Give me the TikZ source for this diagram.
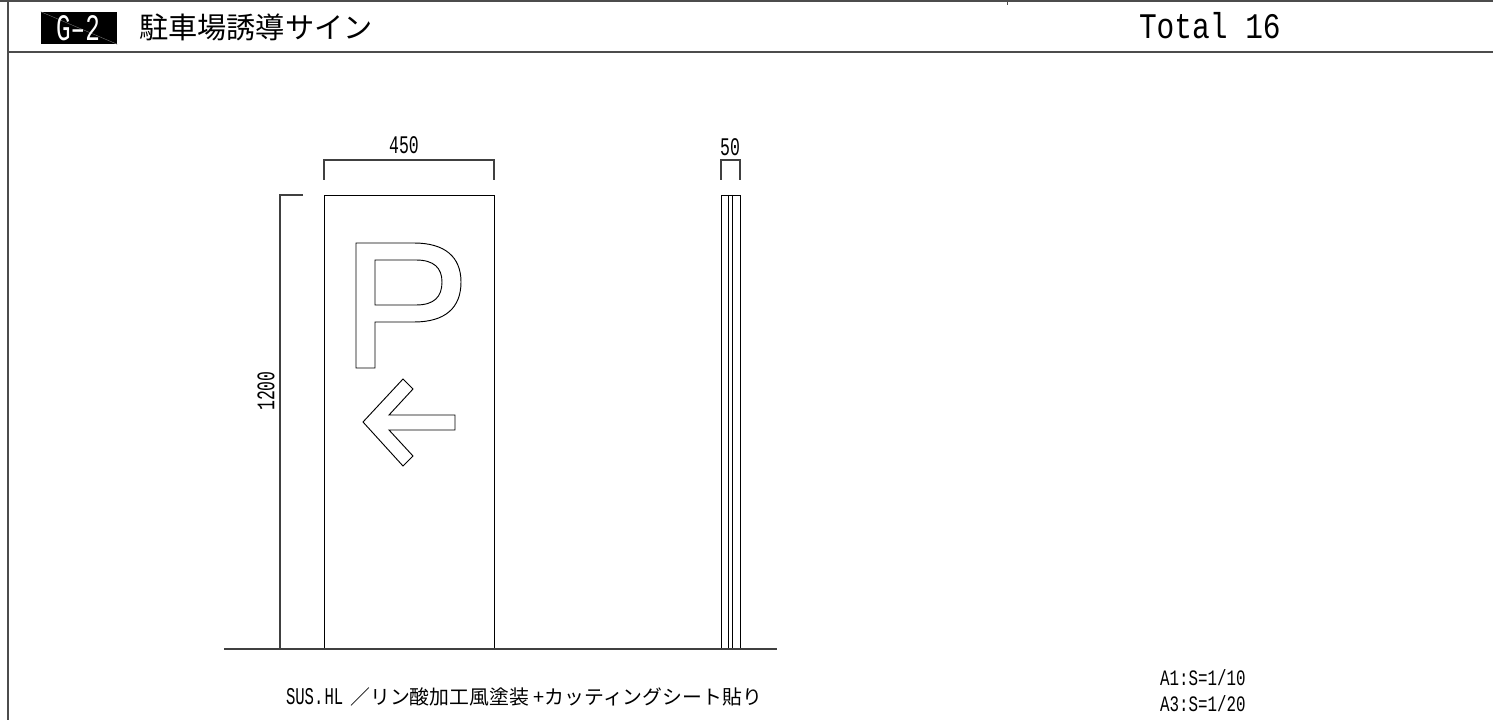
\documentclass[tikz,border=0pt]{standalone}
\usepackage{fontspec}
\setmainfont{Liberation Sans}
\newfontfamily\latn[FakeStretch=0.82]{Liberation Mono}
\newfontfamily\latnn[FakeStretch=0.65]{Liberation Mono}
\newfontfamily\latnm[FakeStretch=0.72]{Liberation Mono}
\newfontfamily\cjk{Noto Sans CJK JP}
\begin{document}
\begin{tikzpicture}[x=0.75pt,y=-0.75pt,
  frameline/.style={draw=black!70,line width=1.1pt},
  drawline/.style={draw=black,line width=0.7pt},
  dimline/.style={draw=black!75,line width=0.85pt},
  lbl/.style={inner sep=0,outer sep=0,text=black},
  ]
\useasboundingbox[fill=white] (0,0) rectangle (1493,720);
% frame
\draw[frameline] (0,1) -- (1493,1);
\draw[frameline] (8,0) -- (8,720);
\draw[frameline] (8,52) -- (1493,52);
\draw[draw=black!70,line width=0.7pt] (1007,1) -- (1007,5);
% header
\node[fill=black,minimum width=76*0.75pt,minimum height=32*0.75pt,inner sep=0] (tag) at (79,28) {};
\draw[draw=black!55,line width=0.3pt] (tag.north west) -- (tag.south east);
\node[lbl,text=white] (tagt) at (78,28) {\fontsize{28}{28}\selectfont\latnn G–2};
\node[lbl,anchor=west] (title) at (139,27) {\fontsize{21.9}{24}\selectfont\cjk 駐車場誘導サイン};
\node[lbl,anchor=west] (total) at (1139,26) {\fontsize{27}{27}\selectfont\latn Total 16};
% panel
\draw[drawline] (324,195) rectangle (494,649);
% P
\draw[drawline,line join=miter] (356,243) -- (414,243)
  .. controls (445,243) and (461,257) .. (461,282)
  .. controls (461,308) and (445,322) .. (414,322)
  -- (375,322) -- (375,368) -- (356,368) -- cycle;
\draw[drawline] (375,260) -- (416,260)
  .. controls (434,260) and (442,268) .. (442,282)
  .. controls (442,297) and (434,305) .. (416,305)
  -- (375,305) -- cycle;
% arrow
\draw[drawline] (363,422) -- (403,379) -- (413,389) -- (389,415) -- (455,415) -- (455,430)
  -- (389,430) -- (413,456) -- (403,466) -- cycle;
% side view
\draw[drawline] (721,195) rectangle (740,649);
\draw[drawline] (728,195) -- (728,649);
\draw[drawline] (732,195) -- (732,649);
% ground
\coordinate (g1) at (224,649); \coordinate (g2) at (777,649);
\draw[dimline] (g1) -- (g2);
% dimensions
\draw[dimline] (324,180) -- (324,160) -- (494,160) -- (494,180);
\node[lbl] (d450) at (404,145) {\fontsize{19}{19}\selectfont\latnn 450};
\draw[dimline] (721,180) -- (721,160) -- (740,160) -- (740,180);
\node[lbl] (d50) at (730,147) {\fontsize{19}{19}\selectfont\latnn 50};
\draw[dimline] (303,195) -- (280,195) -- (280,649) -- (303,649);
\node[lbl,rotate=90] (d1200) at (266,391) {\fontsize{19}{19}\selectfont\latnn 1200};
% notes
\node[lbl,anchor=west] (note) at (286,697) {\fontsize{18}{18}\selectfont\latnn SUS.\hspace{0.05em}HL\hspace{0.29em}\fontsize{14.9}{18}\selectfont\cjk ／リン酸加工風塗装 +カッティングシート貼り};
\node[lbl,anchor=west] (s1) at (1160,678) {\fontsize{16.5}{17}\selectfont\latnm A1:S=1/10};
\node[lbl,anchor=west] (s2) at (1160,704) {\fontsize{16.5}{17}\selectfont\latnm A3:S=1/20};
\end{tikzpicture}
\end{document}
